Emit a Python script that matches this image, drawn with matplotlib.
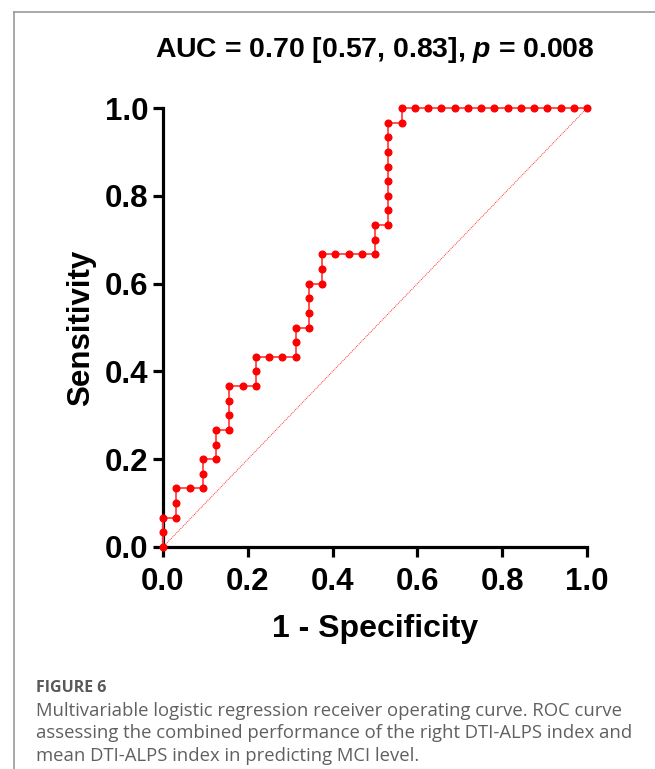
import matplotlib
matplotlib.use("Agg")
from matplotlib import pyplot as plt
from matplotlib.lines import Line2D
import numpy as np

# ROC points as counts: false positives (of 32 negatives), true positives (of 30 positives)
n_neg = 32
n_pos = 30
fp_counts = [0, 0, 0, 1, 1, 1, 2, 3, 3, 3, 4, 4, 4, 5, 5, 5, 5, 6, 7, 7, 7, 8, 9, 10,
             10, 10, 11, 11, 11, 11, 12, 12, 12, 13, 14, 15, 16, 16, 16, 17, 17, 17,
             17, 17, 17, 17, 17, 18, 18, 19, 20, 21, 22, 23, 24, 25, 26, 27, 28, 29,
             30, 31, 32]
tp_counts = [0, 1, 2, 2, 3, 4, 4, 4, 5, 6, 6, 7, 8, 8, 9, 10, 11, 11, 11, 12, 13, 13, 13, 13,
             14, 15, 15, 16, 17, 18, 18, 19, 20, 20, 20, 20, 20, 21, 22, 22, 23, 24,
             25, 26, 27, 28, 29, 29, 30, 30, 30, 30, 30, 30, 30, 30, 30, 30, 30, 30,
             30, 30, 30]
ticks = [0.0, 0.2, 0.4, 0.6, 0.8, 1.0]
tick_labels = ["0.0", "0.2", "0.4", "0.6", "0.8", "1.0"]
title = "AUC = 0.70 [0.57, 0.83], $\\mathbfit{p}$ = 0.008"
caption_head = "FIGURE 6"
caption_lines = [
    "Multivariable logistic regression receiver operating curve. ROC curve",
    "assessing the combined performance of the right DTI-ALPS index and",
    "mean DTI-ALPS index in predicting MCI level.",
]

fpr = np.array(fp_counts) / n_neg
tpr = np.array(tp_counts) / n_pos

plt.rcParams['font.family'] = ['Liberation Sans', 'DejaVu Sans']
plt.rcParams['mathtext.fontset'] = 'custom'
plt.rcParams['mathtext.it'] = 'Liberation Sans:italic:bold'
plt.rcParams['mathtext.bfit'] = 'Liberation Sans:italic:bold'
plt.rcParams['mathtext.bf'] = 'Liberation Sans:bold'

W, H = 655, 769
fig = plt.figure(figsize=(W / 100, H / 100), dpi=100)

ax = fig.add_axes([163 / W, 1 - 547 / H, 424 / W, 439 / H])
ax.plot([0, 1], [0, 1], color='#ff3030', lw=0.7, ls=(0, (1, 1)), clip_on=False)
ax.plot(fpr, tpr, color='#ff4545', lw=1.3, marker='o', ms=4.8,
        mfc='#ff0000', mec='#ff0000', clip_on=False, zorder=3)

ax.set_xlim(0, 1)
ax.set_ylim(0, 1)
ax.set_xticks(ticks)
ax.set_yticks(ticks)
ax.set_xticklabels(tick_labels, fontsize=22.5, fontweight='bold')
ax.set_yticklabels(tick_labels, fontsize=22.5, fontweight='bold')
for s in ['top', 'right']:
    ax.spines[s].set_visible(False)
for s in ['left', 'bottom']:
    ax.spines[s].set_linewidth(2.3)
ax.tick_params(axis='x', direction='out', length=7.5, width=2.3, pad=7)
ax.tick_params(axis='y', direction='out', length=7.5, width=2.3, pad=3)

ax.set_xlabel("1 - Specificity", fontsize=23, fontweight='bold', labelpad=12)
ax.set_ylabel("Sensitivity", fontsize=22.5, fontweight='bold', labelpad=6)
fig.text(375 / W, 1 - 50 / H, title, fontsize=20.4, fontweight='bold',
         ha='center', va='center')

# page frame
fig.add_artist(Line2D([14 / W, 14 / W], [0, 1 - 12 / H], transform=fig.transFigure,
                      color='#9a9a9a', lw=1.2))
fig.add_artist(Line2D([14 / W, 1], [1 - 12 / H, 1 - 12 / H], transform=fig.transFigure,
                      color='#9a9a9a', lw=1.2))

fig.text(36 / W, 1 - 688 / H, caption_head, fontsize=11.5, fontweight='bold',
         color='#595959', family=['Open Sans', 'DejaVu Sans'], va='center')
for i, line in enumerate(caption_lines):
    fig.text(36 / W, 1 - (711 + 22.5 * i) / H, line, fontsize=13.3,
             color='#606060', family=['Open Sans', 'DejaVu Sans'], va='center')

fig.savefig("out.png", dpi=100)
